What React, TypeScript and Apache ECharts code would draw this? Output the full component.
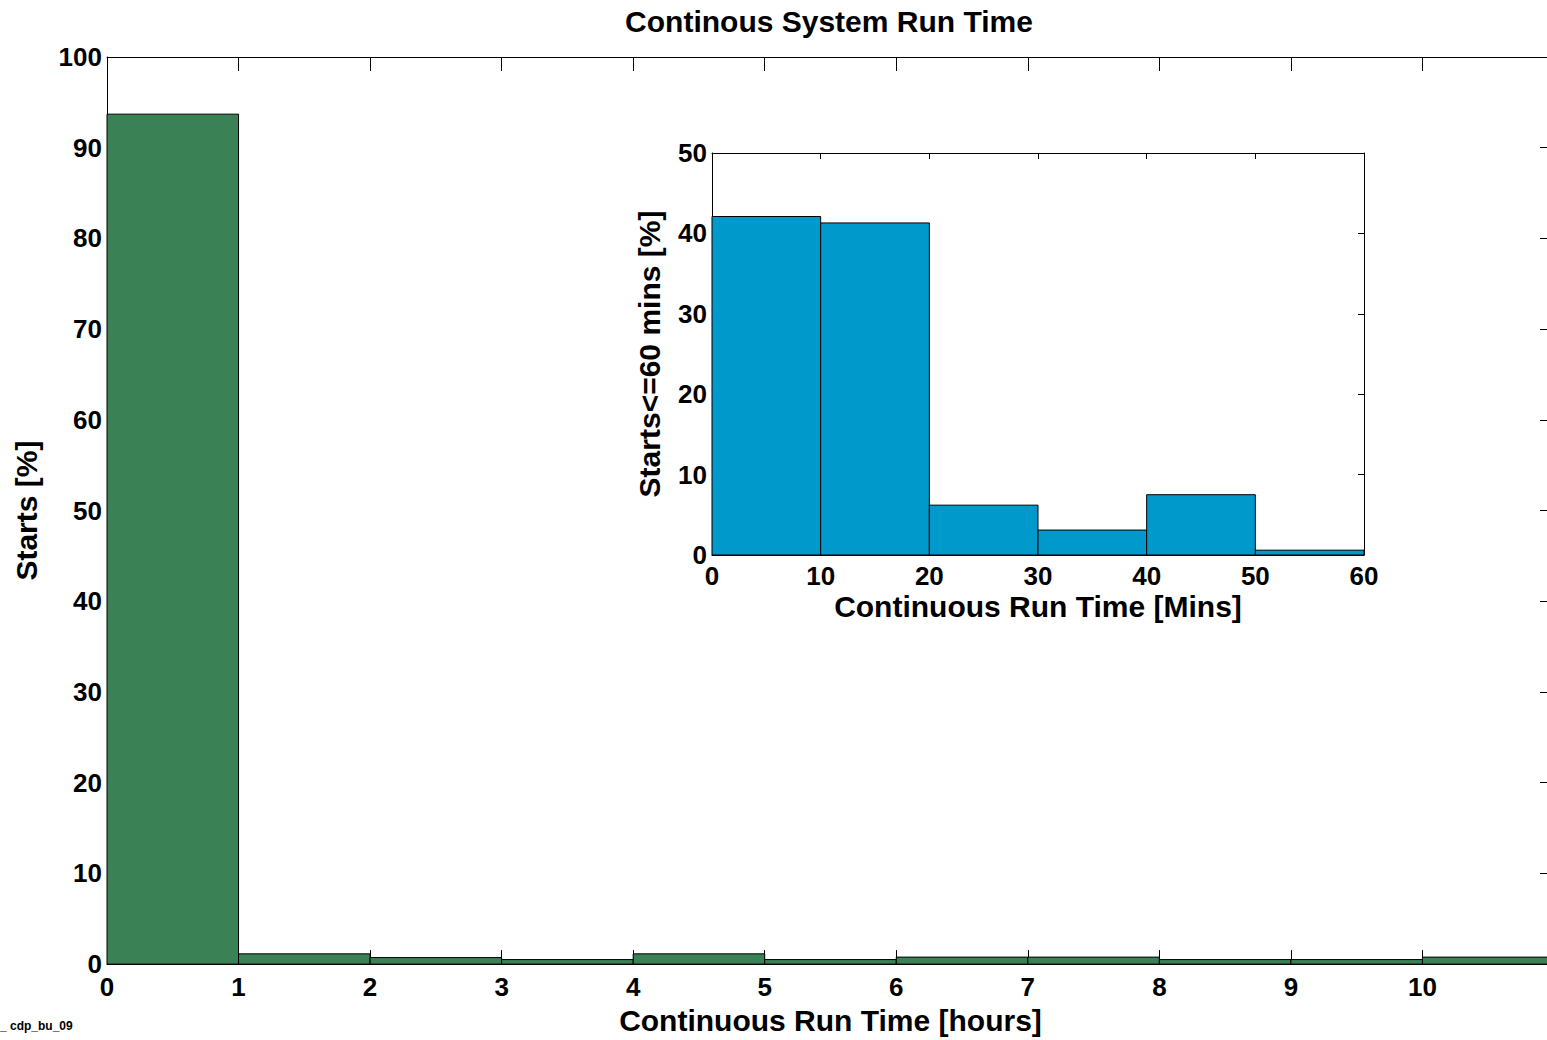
import React, { useEffect, useRef } from "react";
import * as echarts from "echarts";

// Main histogram: bins in hours [start, end], Starts [%]
const hourBinStarts = [0, 1, 2, 3, 4, 5, 6, 7, 8, 9, 10];
const hourBinEnds = [1, 2, 3, 4, 5, 6, 7, 8, 9, 10, 11];
const hourValues = [93.7, 1.13, 0.72, 0.5, 1.13, 0.5, 0.77, 0.77, 0.5, 0.5, 0.77];

// Inset histogram: bins in minutes, Starts<=60 mins [%]
const minBinStarts = [0, 10, 20, 30, 40, 50];
const minBinEnds = [10, 20, 30, 40, 50, 60];
const minValues = [42.1, 41.3, 6.2, 3.1, 7.5, 0.6];

const titleText = "Continous System Run Time";
const mainXName = "Continuous Run Time [hours]";
const mainYName = "Starts [%]";
const insetXName = "Continuous Run Time [Mins]";
const insetYName = "Starts<=60 mins [%]";
const footText = "_ cdp_bu_09";

const FONT = "'Liberation Sans', Arial, Helvetica, sans-serif";

function histRender(color: string) {
  return (params: any, api: any) => {
    const x0 = api.value(0);
    const x1 = api.value(1);
    const v = api.value(2);
    const p0 = api.coord([x0, v]);
    const p1 = api.coord([x1, 0]);
    return {
      type: "rect",
      shape: { x: p0[0], y: p0[1], width: p1[0] - p0[0], height: p1[1] - p0[1] },
      style: { fill: color, stroke: "#000", lineWidth: 1 },
    };
  };
}

export default function App() {
  const ref = useRef<HTMLDivElement>(null);
  useEffect(() => {
    document.body.style.margin = "0";
    document.body.style.overflow = "hidden";
    const chart = echarts.init(ref.current!, null, { renderer: "svg" });
    const axisLine = { show: true, onZero: false, lineStyle: { color: "#000", width: 1 } };
    const tickLabel = { color: "#000", fontSize: 26, fontWeight: "bold" as const, fontFamily: FONT };
    const nameStyle = { color: "#000", fontSize: 30, fontWeight: "bold" as const, fontFamily: FONT };
    const mainTick = { show: true, inside: true, length: 14, lineStyle: { color: "#000" } };
    const insetTick = { show: true, inside: true, length: 6, lineStyle: { color: "#000" } };

    const option: any = {
      animation: false,
      backgroundColor: "#fff",
      grid: [
        { left: 107, top: 57, width: 1447, height: 912, containLabel: false },
        { left: 712, top: 153, width: 652, height: 402, containLabel: false },
      ],
      xAxis: [
        {
          type: "value", gridIndex: 0, min: 0, max: 11, interval: 1, position: "bottom",
          axisLine, axisTick: mainTick, splitLine: { show: false },
          axisLabel: { ...tickLabel, margin: 10, showMaxLabel: false },
          name: mainXName, nameLocation: "middle", nameGap: 38, nameTextStyle: nameStyle,
        },
        {
          type: "value", gridIndex: 0, min: 0, max: 11, interval: 1, position: "top",
          axisLine, axisTick: mainTick, splitLine: { show: false }, axisLabel: { show: false },
        },
        {
          type: "value", gridIndex: 1, min: 0, max: 60, interval: 10, position: "bottom",
          axisLine, axisTick: insetTick, splitLine: { show: false },
          axisLabel: { ...tickLabel, margin: 8 },
          name: insetXName, nameLocation: "middle", nameGap: 36, nameTextStyle: nameStyle,
        },
        {
          type: "value", gridIndex: 1, min: 0, max: 60, interval: 10, position: "top",
          axisLine, axisTick: insetTick, splitLine: { show: false }, axisLabel: { show: false },
        },
      ],
      yAxis: [
        {
          type: "value", gridIndex: 0, min: 0, max: 100, interval: 10, position: "left",
          axisLine, axisTick: mainTick, splitLine: { show: false },
          axisLabel: { ...tickLabel, margin: 5 },
          name: mainYName, nameLocation: "middle", nameGap: 66, nameTextStyle: nameStyle,
        },
        {
          type: "value", gridIndex: 0, min: 0, max: 100, interval: 10, position: "right",
          axisLine, axisTick: mainTick, splitLine: { show: false }, axisLabel: { show: false },
        },
        {
          type: "value", gridIndex: 1, min: 0, max: 50, interval: 10, position: "left",
          axisLine, axisTick: insetTick, splitLine: { show: false },
          axisLabel: { ...tickLabel, margin: 5 },
          name: insetYName, nameLocation: "middle", nameGap: 48, nameTextStyle: nameStyle,
        },
        {
          type: "value", gridIndex: 1, min: 0, max: 50, interval: 10, position: "right",
          axisLine, axisTick: insetTick, splitLine: { show: false }, axisLabel: { show: false },
        },
      ],
      series: [
        {
          type: "custom", xAxisIndex: 0, yAxisIndex: 0,
          renderItem: histRender("#3A8256"),
          data: hourValues.map((v, i) => [hourBinStarts[i], hourBinEnds[i], v]),
          z: 1,
        },
        {
          type: "custom", xAxisIndex: 2, yAxisIndex: 2,
          renderItem: histRender("#0099CC"),
          data: minValues.map((v, i) => [minBinStarts[i], minBinEnds[i], v]),
          z: 5,
        },
      ],
      graphic: [
        {
          type: "rect", z: 0,
          shape: { x: 712, y: 153, width: 652, height: 402 },
          style: { fill: "#fff" }, silent: true,
        },
        {
          type: "text", x: 829, y: 6,
          style: {
            text: titleText, fill: "#000", fontSize: 30, fontWeight: "bold", fontFamily: FONT,
            align: "center",
          },
        },
        {
          type: "text", x: 0, y: 1020,
          style: { text: footText, fill: "#000", fontSize: 12, fontWeight: "bold", fontFamily: FONT },
        },
      ],
    };
    chart.setOption(option);
    return () => chart.dispose();
  }, []);
  return <div ref={ref} style={{ width: 1562, height: 1040 }} />;
}
